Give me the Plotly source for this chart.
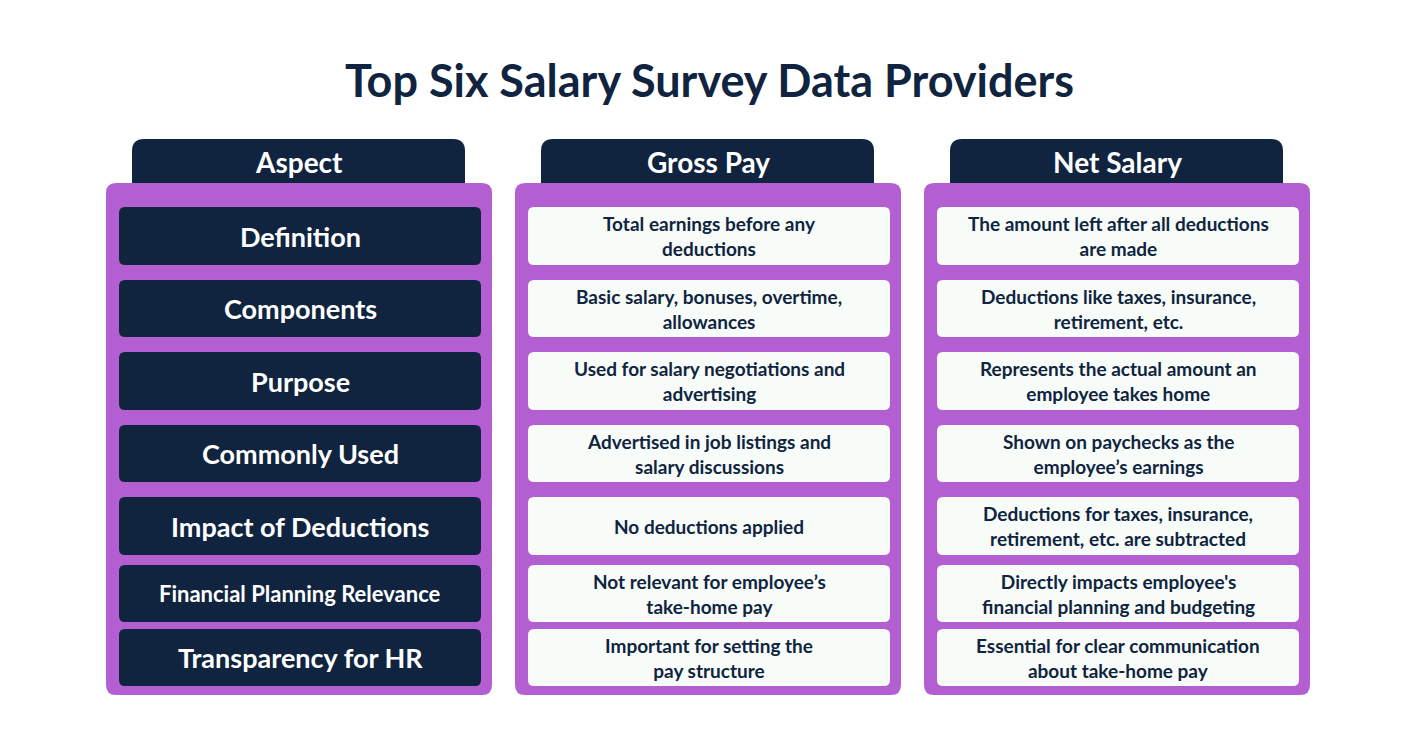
import plotly.graph_objects as go

title = "Top Six Salary Survey Data Providers"
headers = ["Aspect", "Gross Pay", "Net Salary"]
aspects = ["Definition", "Components", "Purpose", "Commonly Used",
           "Impact of Deductions", "Financial Planning Relevance", "Transparency for HR"]
gross = ["Total earnings before any<br>deductions",
         "Basic salary, bonuses, overtime,<br>allowances",
         "Used for salary negotiations and<br>advertising",
         "Advertised in job listings and<br>salary discussions",
         "No deductions applied",
         "Not relevant for employee’s<br>take-home pay",
         "Important for setting the<br>pay structure"]
net = ["The amount left after all deductions<br>are made",
       "Deductions like taxes, insurance,<br>retirement, etc.",
       "Represents the actual amount an<br>employee takes home",
       "Shown on paychecks as the<br>employee’s earnings",
       "Deductions for taxes, insurance,<br>retirement, etc. are subtracted",
       "Directly impacts employee's<br>financial planning and budgeting",
       "Essential for clear communication<br>about take-home pay"]

NAVY = "#10243f"
PURPLE = "#b45fd1"
CELL = "#f7fcf9"
W, H = 1416, 743
OFF = 8  # page offset of the rendered figure

def rrect(x0, y0, x1, y1, r, top_only=False):
    if top_only:
        return (f"M{x0},{y1} L{x0},{y0+r} Q{x0},{y0} {x0+r},{y0} L{x1-r},{y0} "
                f"Q{x1},{y0} {x1},{y0+r} L{x1},{y1} Z")
    return (f"M{x0+r},{y0} L{x1-r},{y0} Q{x1},{y0} {x1},{y0+r} L{x1},{y1-r} "
            f"Q{x1},{y1} {x1-r},{y1} L{x0+r},{y1} Q{x0},{y1} {x0},{y1-r} "
            f"L{x0},{y0+r} Q{x0},{y0} {x0+r},{y0} Z")

fig = go.Figure()
shapes, ann = [], []
panel_x = [106, 515, 924]
rows_y = [(207, 265), (280, 337), (352, 410), (425, 482), (497, 555), (565, 622), (629, 686)]
font = "Lato"

for c, px in enumerate(panel_x):
    shapes.append(dict(type="path", path=rrect(px + 26, 139, px + 359, 186, 12, True),
                       fillcolor=NAVY, line_width=0, layer="below"))
    shapes.append(dict(type="path", path=rrect(px, 183, px + 386, 695, 10),
                       fillcolor=PURPLE, line_width=0, layer="below"))
    ann.append(dict(x=px + 193, y=162, text=f"<b>{headers[c]}</b>", showarrow=False,
                    font=dict(family=font, size=28, color="white")))
    texts = [aspects, gross, net][c]
    for i, (y0, y1) in enumerate(rows_y):
        fill = NAVY if c == 0 else CELL
        shapes.append(dict(type="path", path=rrect(px + 13, y0, px + 375, y1, 6),
                           fillcolor=fill, line_width=0, layer="below"))
        if c == 0:
            size = 22 if len(texts[i]) > 22 else 27
            color = "white"
        else:
            size = 19
            color = NAVY
        ann.append(dict(x=px + 194, y=(y0 + y1) / 2, text=f"<b>{texts[i]}</b>",
                        showarrow=False, font=dict(family=font, size=size, color=color)))

ann.append(dict(x=W / 2 + 1, y=80, text=f"<b>{title}</b>", showarrow=False,
                font=dict(family=font, size=45, color=NAVY)))

fig.update_layout(width=W, height=H, margin=dict(l=0, r=0, t=0, b=0),
                  plot_bgcolor="white", paper_bgcolor="white",
                  shapes=shapes, annotations=ann, showlegend=False,
                  xaxis=dict(range=[OFF, W + OFF], visible=False, fixedrange=True),
                  yaxis=dict(range=[H + OFF, OFF], visible=False, fixedrange=True))
fig.write_html("out.html")
